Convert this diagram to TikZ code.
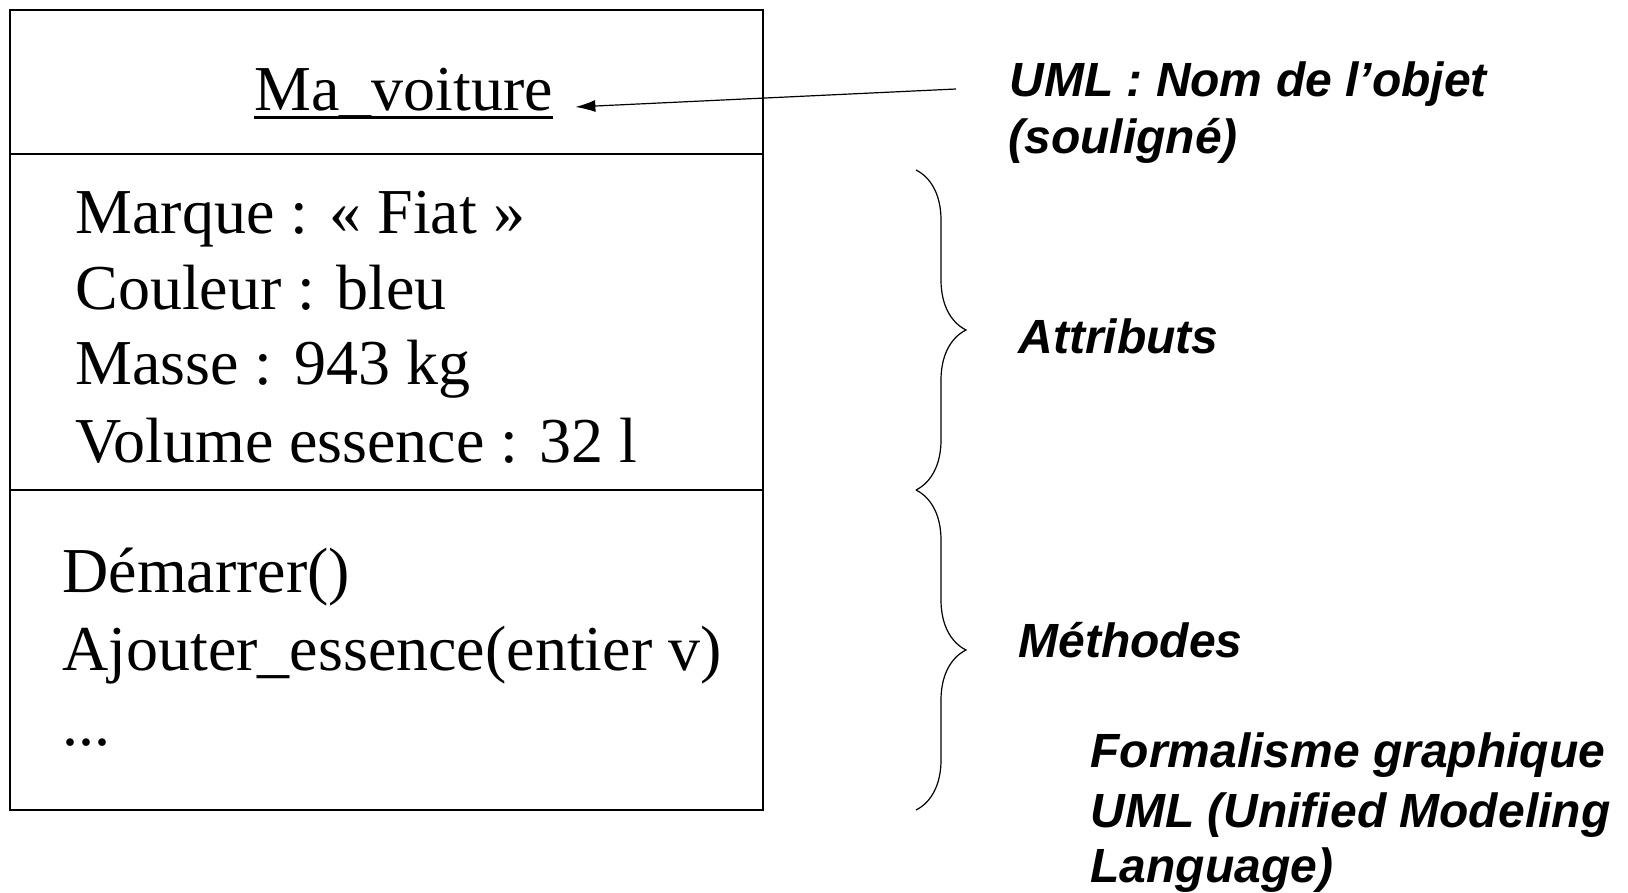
\documentclass[tikz,border=0pt]{standalone}
\usepackage{fontspec}
\setmainfont{Liberation Serif}
\newfontfamily\notefont{Liberation Sans}
\usetikzlibrary{arrows.meta}
\usetikzlibrary{decorations.pathreplacing}

\tikzset{
	obj/.style={anchor=base west, inner sep=0pt, font=\fontsize{32}{38}\selectfont},
	note/.style={anchor=base west, inner sep=0pt, font=\notefont\bfseries\itshape\fontsize{24}{28}\selectfont},
	accolade/.style={decorate, decoration={brace, amplitude=25pt}, semithick}
}

\begin{document}
\begin{tikzpicture}[x=0.5pt, y=-0.5pt]
	\useasboundingbox (0,0) rectangle (1628,893);

	\coordinate(hg) at (10, 10);
	\coordinate(bd) at (763, 810);
	\coordinate(objet) at (956, 89);

	% le cadre UML
	\draw[line width=1pt] (hg) rectangle (bd);
	\draw[line width=1pt] (10, 154)--(763, 154);
	\draw[line width=1pt] (10, 490)--(763, 490);

	\node[obj] (nom) at (254, 111) {Ma\_voiture};
	\draw[line width=1.5pt] ([yshift=-3.5pt]nom.base west)--([yshift=-3.5pt]nom.base east);

	\node[obj] (marque) at (75, 234) {Marque : « Fiat »};
	\node[obj] (couleur) at (75, 309) {Couleur : bleu};
	\node[obj] (masse) at (75, 385) {Masse : 943 kg};
	\node[obj] (volume) at (75, 462) {Volume essence : 32 l};

	\node[obj] (demarrer) at (62, 592) {Démarrer()};
	\node[obj] (ajouter) at (62, 670) {Ajouter\_essence(entier v)};
	\node[obj] (suite) at (62, 745) {...};

	% les commentaires
	\draw[semithick, -{Latex[length=10pt, width=6pt]}, shorten >=11pt] (objet)--([yshift=1.5pt]nom.base east);
	\node[note] (nomobjet) at (1009, 97) {UML : Nom de l’objet};
	\node[note] (souligne) at (1008, 154) {(souligné)};

	\draw[accolade] (916, 170)--(916, 490);
	\draw[accolade] (916, 490)--(916, 810);
	\node[note] (attributs) at (1018, 353) {Attributs};
	\node[note] (methodes) at (1018, 657) {Méthodes};

	\node[note] (formalisme) at (1090, 767) {Formalisme graphique};
	\node[note] (uml) at (1090, 827) {UML (Unified Modeling};
	\node[note] (langage) at (1090, 882) {Language)};
\end{tikzpicture}
\end{document}
